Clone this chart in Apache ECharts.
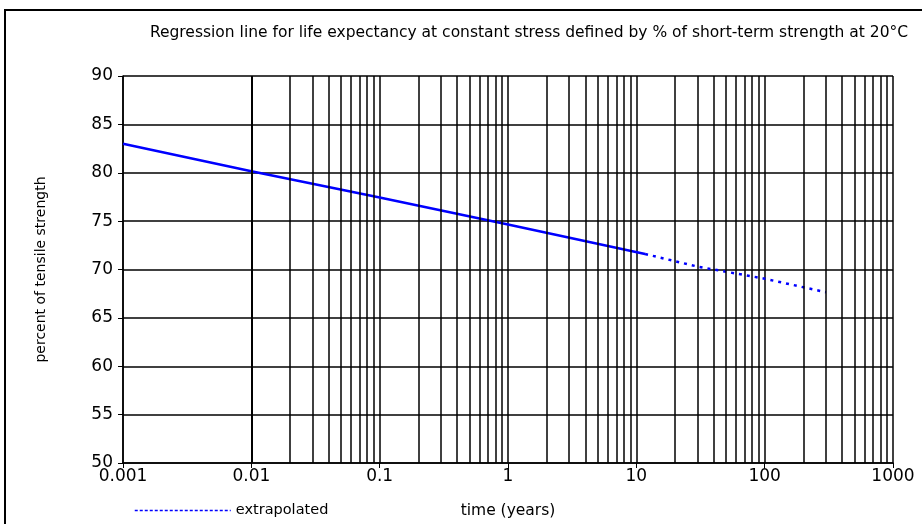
<!DOCTYPE html>
<html><head><meta charset="utf-8">
<script src="https://cdn.jsdelivr.net/npm/echarts@6/dist/echarts.min.js"></script>
<style>html,body{margin:0;padding:0;background:#fff}#c{width:922px;height:524px}</style>
</head><body><div id="c"></div>
<script>
var titleText = 'Regression line for life expectancy at constant stress defined by % of short-term strength at 20°C';
var measuredTime = [0.001, 0.01, 0.1, 1, 11.7];
var measuredPct = [83.0, 80.15, 77.45, 74.65, 71.6];
var extrapTime = [11.7, 30, 100, 300];
var extrapPct = [71.6, 70.3, 69.05, 67.65];
var xTicks = [0.001, 0.01, 0.1, 1, 10, 100, 1000];
var minorMultipliers = [2, 3, 4, 5, 6, 7, 8, 9];

function pairs(xs, ys){ return xs.map(function(x,i){ return [x, ys[i]]; }); }
var minorLines = [];
for (var d = 0; d < xTicks.length - 1; d++) {
  minorMultipliers.forEach(function(m){ minorLines.push({xAxis: xTicks[d]*m}); });
}
var F = 'DejaVu Sans';
var chart = echarts.init(document.getElementById('c'));
chart.setOption({
  animation: false,
  backgroundColor: '#fff',
  title: {text: titleText, left: 524, top: 20, textAlign: 'center',
    textStyle: {fontFamily: F, fontSize: 15.5, fontWeight: 'normal', color: '#000'}},
  graphic: [{type: 'rect', shape: {x: 5, y: 10, width: 940, height: 540},
    style: {fill: 'none', stroke: '#000', lineWidth: 2}, silent: true}],
  legend: {data: ['extrapolated'], left: 129, top: 498, itemWidth: 96, itemHeight: 12, itemGap: 3,
    itemStyle: {opacity: 0},
    lineStyle: {width: 1.5, type: [3, 2]},
    textStyle: {fontFamily: F, fontSize: 14.5, color: '#000'}},
  grid: {left: 123, right: 29, top: 76, bottom: 58},
  xAxis: {type: 'log', logBase: 10, min: 0.001, max: 1000,
    name: 'time (years)', nameLocation: 'middle', nameGap: 40,
    nameTextStyle: {fontFamily: F, fontSize: 15.5, color: '#000'},
    axisLine: {lineStyle: {color: '#000', width: 1.5}},
    axisTick: {show: true, length: 5, lineStyle: {color: '#000'}},
    axisLabel: {fontFamily: F, fontSize: 17, color: '#000', margin: 5,
      formatter: function(v){ var i = xTicks.findIndex(function(t){return Math.abs(Math.log10(t)-Math.log10(v))<1e-6;}); return i>=0 ? String(xTicks[i]) : ''; }},
    splitLine: {show: true, lineStyle: {color: '#000', width: 1.5}}},
  yAxis: {type: 'value', min: 50, max: 90, interval: 5,
    name: 'percent of tensile strength', nameLocation: 'middle', nameGap: 75, nameRotate: 90,
    nameTextStyle: {fontFamily: F, fontSize: 14, color: '#000'},
    axisLine: {show: true, lineStyle: {color: '#000', width: 1.5}},
    axisTick: {show: true, length: 5, lineStyle: {color: '#000'}},
    axisLabel: {fontFamily: F, fontSize: 17, color: '#000', margin: 10},
    splitLine: {show: true, lineStyle: {color: '#000', width: 1.5}}},
  series: [
    {name: 'measured', type: 'line', data: pairs(measuredTime, measuredPct), symbol: 'none',
      lineStyle: {color: '#0000ff', width: 2.5}, itemStyle: {color: '#0000ff'},
      markLine: {silent: true, symbol: 'none', label: {show: false},
        lineStyle: {color: '#000', width: 1.5, type: 'solid'}, data: minorLines}, z: 3},
    {name: 'extrapolated', type: 'line', data: pairs(extrapTime, extrapPct), symbol: 'none',
      lineStyle: {color: '#0000ff', width: 2.5, type: [3, 5]}, itemStyle: {color: '#0000ff'}, z: 3}
  ]
});
</script></body></html>
